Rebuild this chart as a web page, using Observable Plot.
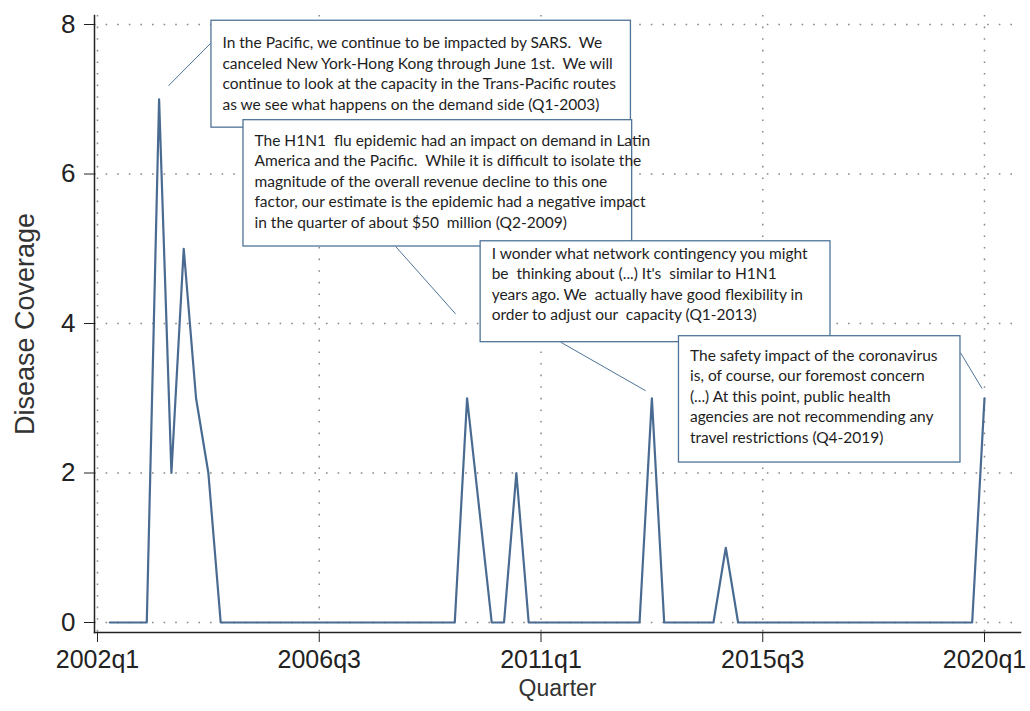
<!DOCTYPE html>
<html><head><meta charset="utf-8">
<script src="https://cdn.jsdelivr.net/npm/d3@7"></script>
<script src="https://cdn.jsdelivr.net/npm/@observablehq/plot@0.6"></script>
<style>body{margin:0;background:#fff}</style>
</head><body><div id="chart"></div>
<script>
// ---- data ----
const firstQuarter = "2002q2";
const coverage = [
  /*2002*/ 0, 0, 0,
  /*2003*/ 0, 7, 2, 5,
  /*2004*/ 3, 2, 0, 0,
  /*2005*/ 0, 0, 0, 0,
  /*2006*/ 0, 0, 0, 0,
  /*2007*/ 0, 0, 0, 0,
  /*2008*/ 0, 0, 0, 0,
  /*2009*/ 0, 0, 3, 1.5,
  /*2010*/ 0, 0, 2, 0,
  /*2011*/ 0, 0, 0, 0,
  /*2012*/ 0, 0, 0, 0,
  /*2013*/ 0, 3, 0, 0,
  /*2014*/ 0, 0, 0, 1,
  /*2015*/ 0, 0, 0, 0,
  /*2016*/ 0, 0, 0, 0,
  /*2017*/ 0, 0, 0, 0,
  /*2018*/ 0, 0, 0, 0,
  /*2019*/ 0, 0, 0, 0,
  /*2020*/ 3
];
const xTickLabels = ["2002q1", "2006q3", "2011q1", "2015q3", "2020q1"];
const yTickValues = [0, 2, 4, 6, 8];
const annotationTexts = [
  "In the Pacific, we continue to be impacted by SARS.  We\ncanceled New York-Hong Kong through June 1st.  We will\ncontinue to look at the capacity in the Trans-Pacific routes\nas we see what happens on the demand side (Q1-2003)",
  "The H1N1  flu epidemic had an impact on demand in Latin\nAmerica and the Pacific.  While it is difficult to isolate the\nmagnitude of the overall revenue decline to this one\nfactor, our estimate is the epidemic had a negative impact\nin the quarter of about $50  million (Q2-2009)",
  "I wonder what network contingency you might\nbe  thinking about (...) It's  similar to H1N1\nyears ago. We  actually have good flexibility in\norder to adjust our  capacity (Q1-2013)",
  "The safety impact of the coronavirus\nis, of course, our foremost concern\n(...) At this point, public health\nagencies are not recommending any\ntravel restrictions (Q4-2019)"
];

// ---- annotation layout (quarters after 2002q1, coverage units; text offset in px) ----
const boxLayout = [
  {x1: 9.25, x2: 43.3, y1: 6.62, y2: 8.05, lx1: 9.25, ly1: 7.76, lx2: 5.76, ly2: 7.18, pad: 13},
  {x1: 11.85, x2: 43.4, y1: 5.03, y2: 6.72, lx1: 24.2, ly1: 5.03, lx2: 29.06, ly2: 4.13, pad: 11},
  {x1: 31.1, x2: 59.5, y1: 3.75, y2: 5.10, lx1: 37.6, ly1: 3.75, lx2: 44.5, ly2: 3.10, pad: 3},
  {x1: 47.2, x2: 70.05, y1: 2.14, y2: 3.83, lx1: 70.05, ly1: 3.61, lx2: 71.8, ly2: 3.13, pad: 10}
];

// ---- build ----
const parseQ = s => { const [y, q] = s.split("q"); return (+y) * 4 + (+q - 1); };
const base = parseQ(xTickLabels[0]);
const start = parseQ(firstQuarter) - base;
const series = coverage.map((v, k) => ({i: start + k, v}));
const xTicks = xTickLabels.map(s => parseQ(s) - base);
const fmtQ = i => `${Math.floor((i + base) / 4)}q${((i + base) % 4) + 1}`;
const ann = annotationTexts.map((t, k) => ({text: t, ...boxLayout[k]}));

const lineColor = "#4a6b91";
const boxColor = "#4f7498";

const marks = [
  Plot.gridX({ticks: xTicks, stroke: "#888", strokeOpacity: 1, strokeDasharray: "1.6,10", strokeWidth: 1.5}),
  Plot.gridY({ticks: yTickValues, stroke: "#888", strokeOpacity: 1, strokeDasharray: "1.6,10", strokeWidth: 1.5}),
  Plot.frame({anchor: "bottom", stroke: "#222", strokeWidth: 1.5}),
  Plot.frame({anchor: "left", stroke: "#222", strokeWidth: 1.5}),
  Plot.axisX({ticks: xTicks, tickFormat: fmtQ, tickSize: 10, tickPadding: 8, fontSize: 25, label: null, stroke: "#222", fill: "#222"}),
  Plot.axisY({ticks: yTickValues, tickSize: 10, tickPadding: 9, fontSize: 26, label: null, stroke: "#222", fill: "#222"}),
  Plot.text(["Quarter"], {frameAnchor: "bottom", dy: 63, fontSize: 23, fill: "#333"}),
  Plot.text(["Disease Coverage"], {frameAnchor: "left", dx: -69, rotate: -90, textAnchor: "middle", fontSize: 27, fill: "#333"}),
  Plot.line(series, {x: "i", y: "v", stroke: lineColor, strokeWidth: 2.2}),
  Plot.link(ann, {x1: "lx1", y1: "ly1", x2: "lx2", y2: "ly2", stroke: boxColor, strokeWidth: 1})
];
ann.forEach(a => {
  marks.push(Plot.rect([a], {x1: "x1", x2: "x2", y1: "y1", y2: "y2", fill: "white", stroke: boxColor, strokeWidth: 1.3}));
  marks.push(Plot.text([a], {x: "x1", y: "y2", text: "text", textAnchor: "start", lineAnchor: "top", dx: 11, dy: a.pad, fontSize: 15.5, lineHeight: 1.32, fontFamily: "Lato", fill: "#1e1e1e"}));
});

const chart = Plot.plot({
  width: 1030,
  height: 711,
  marginLeft: 94,
  marginRight: 10,
  marginTop: 15,
  marginBottom: 79,
  style: {fontFamily: "'Liberation Sans', Arial, sans-serif", background: "white"},
  x: {domain: [0, 72], insetLeft: 3, insetRight: 36},
  y: {domain: [0, 8], insetTop: 9, insetBottom: 10},
  marks
});
document.getElementById("chart").appendChild(chart);
</script>
</body></html>
